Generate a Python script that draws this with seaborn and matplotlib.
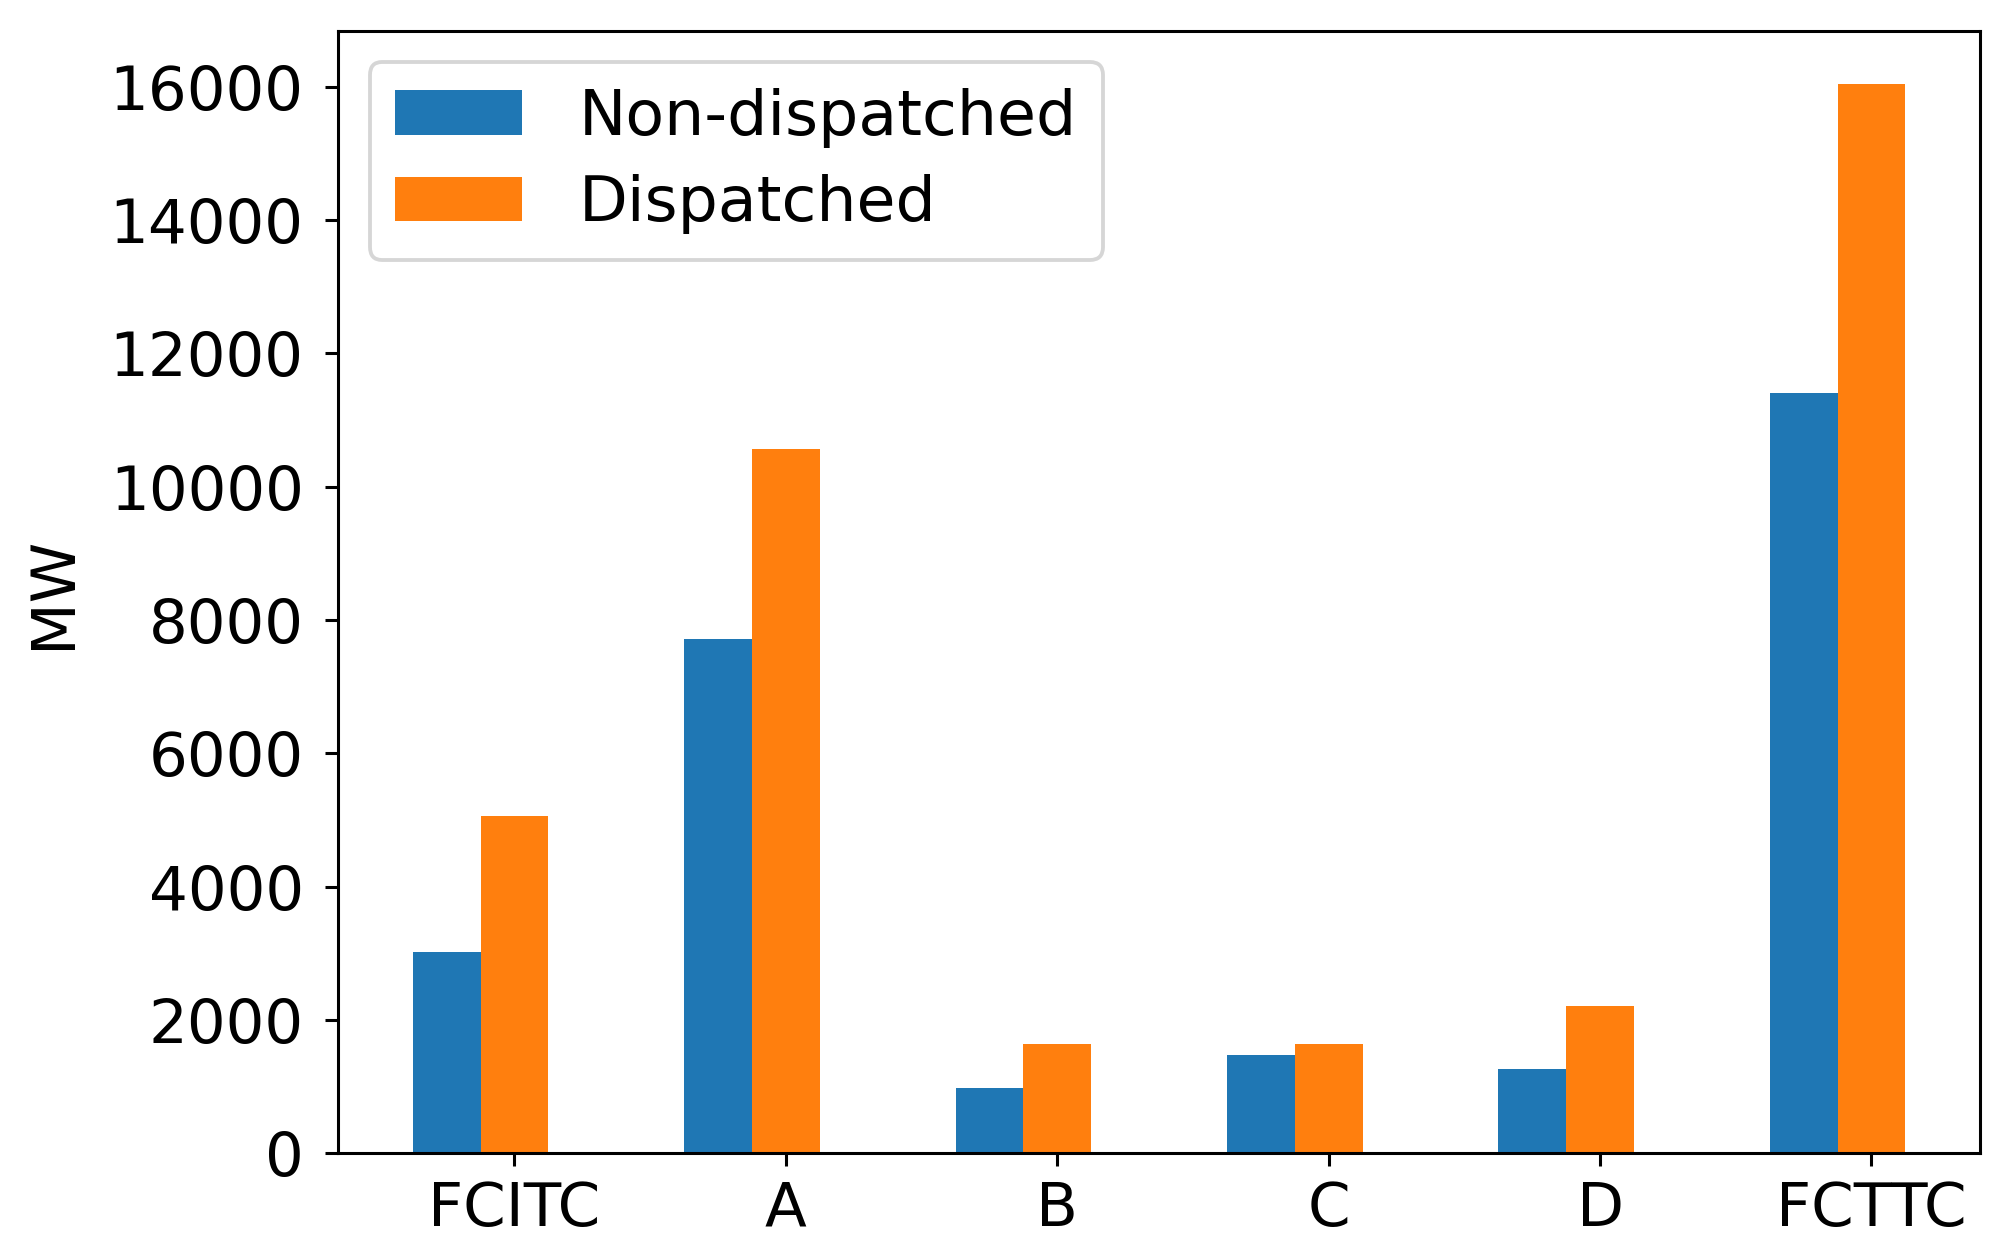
import numpy as np
import pandas as pd
import matplotlib
matplotlib.use("Agg")
import matplotlib.pyplot as plt
import seaborn as sns

# values (MW)
categories = ["FCITC", "A", "B", "C", "D", "FCTTC"]
non_dispatched = [3020, 7710, 980, 1470, 1260, 11410]
dispatched = [5060, 10570, 1640, 1640, 2210, 16040]
series_names = ["Non-dispatched", "Dispatched"]
colors = ["#1f77b4", "#ff7f0e"]

df = pd.DataFrame({
    "area": categories * 2,
    "MW": non_dispatched + dispatched,
    "type": [series_names[0]] * len(categories) + [series_names[1]] * len(categories),
})

plt.rcParams["font.size"] = 16
plt.rcParams["font.family"] = ["DejaVu Sans"]

fig = plt.figure(figsize=(2010 / 275, 1256 / 275), dpi=275)
ax = fig.add_axes([0.1682, 0.0818, 0.9851 - 0.1682, 0.9756 - 0.0818])

sns.barplot(data=df, x="area", y="MW", hue="type", order=categories,
            hue_order=series_names, palette=colors, saturation=1,
            width=0.5, ax=ax)

# ticks sit under the second bar of each group, as in the original
n = len(categories)
ax.set_xticks(np.arange(n) + 0.125, labels=categories)
ax.set_xlim(-0.525, n - 0.475)
ax.set_xlabel("")
ax.set_ylabel("MW", labelpad=7)
ax.set_yticks(np.arange(0, 16001, 2000))
ax.set_ylim(0, max(dispatched) * 1.05)
ax.tick_params(axis="y", pad=5.5)
sns.move_legend(ax, "upper left", title=None, fontsize=16.6,
                handletextpad=0.9, labelspacing=0.42)

fig.savefig("out.png", dpi=275)
